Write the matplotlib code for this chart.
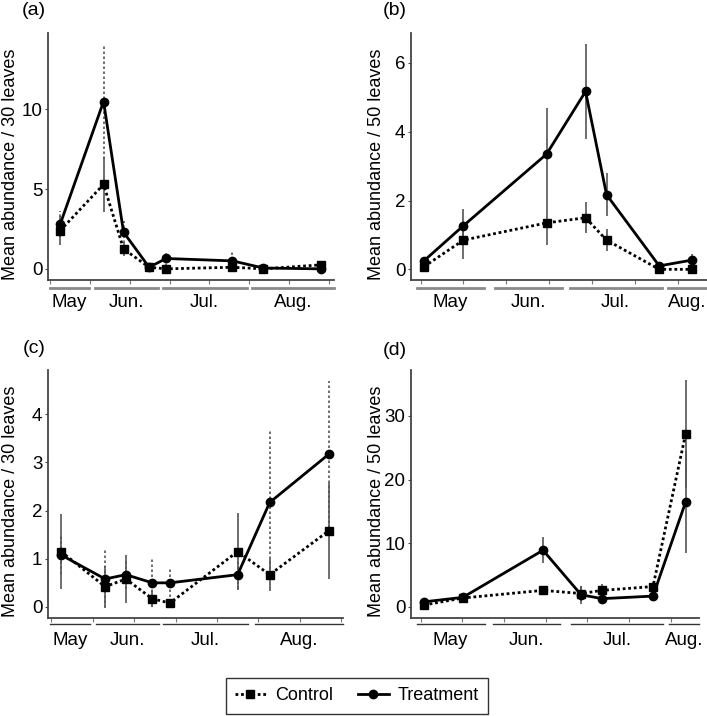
import matplotlib

matplotlib.use('Agg')
import matplotlib.pyplot as plt
from matplotlib.lines import Line2D

plt.rcParams['font.family'] = ['Liberation Sans', 'DejaVu Sans']
plt.rcParams['font.size'] = 13

MONTHS = ["May", "Jun.", "Jul.", "Aug."]

# panel (a)
x_a = [125.3, 147, 157, 169.8, 178.3, 211.5, 227, 255.7]
ctrl_a = [2.4, 5.3, 1.25, 0.1, 0.0, 0.1, 0.0, 0.25]
ctrl_err_a = [0.9, 1.75, 0.45, 0.05, 0.0, 0.05, 0.0, 0.1]
treat_a = [2.8, 10.5, 2.3, 0.1, 0.65, 0.5, 0.05, 0.0]
treat_err_a = [0.8, 3.6, 0.7, 0.05, 0.5, 0.55, 0.05, 0.0]
months_a = [(120, 139.5), (142.5, 174), (176.5, 218.7), (221.5, 262.3)]

# panel (b)
x_b = [121.6, 140, 178.8, 197, 206.8, 231.4, 246.8]
ctrl_b = [0.08, 0.85, 1.35, 1.5, 0.85, 0.0, 0.0]
ctrl_err_b = [0.05, 0.55, 0.65, 0.45, 0.33, 0.0, 0.0]
treat_b = [0.25, 1.27, 3.35, 5.17, 2.17, 0.1, 0.27]
treat_err_b = [0.1, 0.47, 1.35, 1.37, 0.63, 0.05, 0.18]
months_b = [(118.1, 149.7), (154.7, 185.8), (189.7, 232.5), (235.6, 253.5)]

# panel (c)
x_c = [124.7, 146, 156, 168.8, 177.3, 210, 225.5, 254]
ctrl_c = [1.15, 0.42, 0.58, 0.17, 0.08, 1.15, 0.67, 1.58]
ctrl_err_c = [0.77, 0.42, 0.5, 0.17, 0.08, 0.8, 0.33, 1.0]
treat_c = [1.08, 0.58, 0.67, 0.5, 0.5, 0.67, 2.17, 3.17]
treat_err_c = [0.4, 0.6, 0.3, 0.5, 0.3, 0.3, 1.48, 1.53]
months_c = [(119.5, 138.8), (141.5, 172), (174.1, 215.1), (218.3, 260.9)]

# panel (d)
x_d = [121.6, 140.2, 178.7, 197, 207.1, 231.5, 247.2]
ctrl_d = [0.3, 1.4, 2.6, 2.1, 2.6, 3.2, 27.2]
ctrl_err_d = [0.3, 0.5, 0.6, 1.2, 1.0, 0.6, 8.5]
treat_d = [0.8, 1.5, 8.9, 1.9, 1.3, 1.7, 16.5]
treat_err_d = [0.3, 0.5, 2.0, 1.4, 0.4, 0.5, 8.0]
months_d = [(118.1, 150.6), (154.6, 187), (192.3, 236.3), (239.2, 253.6)]

W, H = 707, 716
fig = plt.figure(figsize=(W / 100, H / 100), dpi=100)


def px_axes(x0, y0, x1, y1):
    return fig.add_axes([x0 / W, 1 - y1 / H, (x1 - x0) / W, (y1 - y0) / H])


def panel(ax, x, ctrl, ctrl_err, treat, treat_err, months, xlim, ylim, yticks,
          xticks, ylabel, treat_err_style, bar_style, bar_y, lab_y):
    ecol = '#555555'
    ax.errorbar(x, ctrl, yerr=ctrl_err, fmt='none', ecolor=ecol, elinewidth=1.2, capsize=0)
    eb = ax.errorbar(x, treat, yerr=treat_err, fmt='none', ecolor=ecol, elinewidth=1.2, capsize=0)
    for lc in eb[2]:
        lc.set_linestyle(treat_err_style)
    ax.plot(x, ctrl, color='black', ls=(0, (1, 1)), lw=2, marker='s', ms=5.8, zorder=3)
    ax.plot(x, treat, color='black', ls='-', lw=2, marker='o', ms=6, zorder=4)
    ax.set_xlim(xlim)
    ax.set_ylim(ylim)
    ax.set_yticks(yticks)
    ax.set_xticks(xticks)
    ax.set_xticklabels([])
    for s in ['top', 'right']:
        ax.spines[s].set_visible(False)
    for s in ['left', 'bottom']:
        ax.spines[s].set_color('#444444')
        ax.spines[s].set_linewidth(1.3)
    ax.tick_params(axis='x', length=3, color='#777777')
    ax.tick_params(axis='y', length=2, pad=2, color='#444444', labelsize=13.5)
    ax.set_ylabel(ylabel, fontsize=13)
    tr = ax.get_xaxis_transform()
    for (m0, m1), name in zip(months, MONTHS):
        ax.plot([m0, m1], [bar_y, bar_y], transform=tr, clip_on=False, **bar_style)
        ax.text((m0 + m1) / 2, lab_y, name, transform=tr, ha='center', va='center', fontsize=13.5)


top_bar = dict(color='#8a8a8a', lw=2)
bot_bar = dict(color='#333333', lw=1)

ax_a = px_axes(48, 33, 334, 280)
panel(ax_a, x_a, ctrl_a, ctrl_err_a, treat_a, treat_err_a, months_a, (119.2, 262.3),
      (-0.7, 14.8), [0, 5, 10], list(range(120, 261, 20)), "Mean abundance / 30 leaves",
      (0, (1.5, 1.5)), top_bar, -0.034, -0.093)

ax_b = px_axes(411, 33, 707, 280)
panel(ax_b, x_b, ctrl_b, ctrl_err_b, treat_b, treat_err_b, months_b, (115.5, 253.7),
      (-0.31, 6.87), [0, 2, 4, 6], list(range(120, 241, 20)), "Mean abundance / 50 leaves",
      '-', top_bar, -0.034, -0.093)

ax_c = px_axes(48, 370, 343, 618)
panel(ax_c, x_c, ctrl_c, ctrl_err_c, treat_c, treat_err_c, months_c, (118.4, 260.9),
      (-0.23, 4.92), [0, 1, 2, 3, 4], list(range(120, 261, 20)), "Mean abundance / 30 leaves",
      (0, (1.5, 1.5)), bot_bar, -0.024, -0.089)

ax_d = px_axes(411, 370, 699, 618)
panel(ax_d, x_d, ctrl_d, ctrl_err_d, treat_d, treat_err_d, months_d, (115.3, 253.6),
      (-1.74, 37.2), [0, 10, 20, 30], list(range(120, 241, 20)), "Mean abundance / 50 leaves",
      '-', bot_bar, -0.024, -0.089)

# y labels: right edge of the rotated text a fixed pixel offset left of the spine
ax_a.yaxis.set_label_coords(-29 / 286, 0.47)
ax_c.yaxis.set_label_coords(-29 / 295, 0.47)
ax_b.yaxis.set_label_coords(-26 / 296, 0.47)
ax_d.yaxis.set_label_coords(-26 / 288, 0.47)

for lab, xp, yp in [("(a)", 22, 2), ("(b)", 383, 2), ("(c)", 23, 340), ("(d)", 383, 342)]:
    fig.text(xp / W, 1 - yp / H, lab, ha='left', va='top', fontsize=14)

handles = [
    Line2D([], [], color='black', ls=(0, (1, 1)), lw=2, marker='s', ms=5.8),
    Line2D([], [], color='black', ls='-', lw=2, marker='o', ms=6),
]
leg = fig.legend(handles, ["Control", "Treatment"], loc='center', ncol=2,
                 bbox_to_anchor=(357 / W, 1 - 696 / H), frameon=True, fancybox=False,
                 edgecolor='black', fontsize=13, handlelength=1.7, handletextpad=0.5,
                 columnspacing=1.4, borderpad=0.5)
leg.get_frame().set_linewidth(1.0)

fig.savefig('out.png', dpi=100)
